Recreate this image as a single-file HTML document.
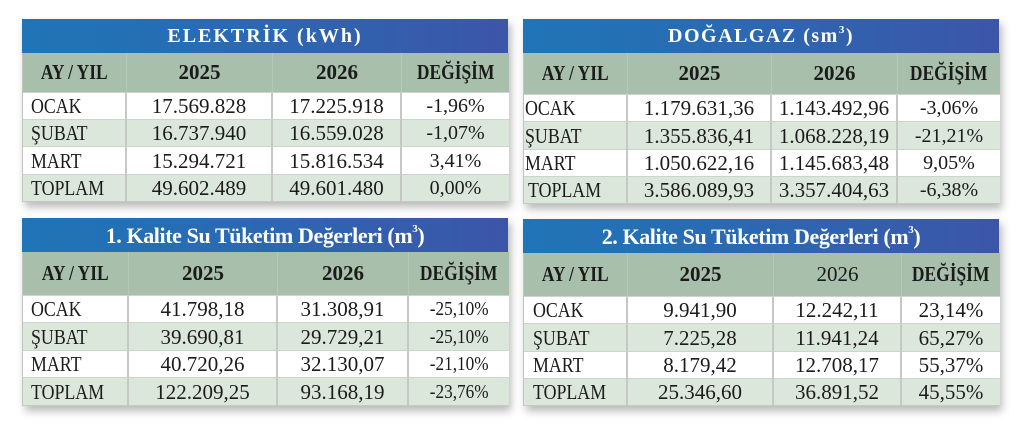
<!DOCTYPE html>
<html><head><meta charset="utf-8">
<style>
html,body{margin:0;padding:0;background:#fff;}
body{width:1031px;height:438px;position:relative;overflow:hidden;font-family:"Liberation Serif","DejaVu Serif",serif;color:#1b1b1b;}
.t{position:absolute;box-shadow:3px 5px 8px rgba(0,0,0,0.28);background:#fff;}
.title{height:34px;line-height:35px;text-align:center;color:#fff;font-weight:bold;background:linear-gradient(90deg,#1f75b7 0%,#2c68b2 50%,#3c55a7 100%);white-space:nowrap;}
.title.a{font-size:20px;letter-spacing:2px;}
.title.b{font-size:22px;letter-spacing:-0.4px;}
.title sup{font-size:11px;vertical-align:top;position:relative;top:-6px;}
.g{display:grid;box-sizing:border-box;border-left:1px solid #bfc6bf;border-right:1px solid #bfc6bf;border-bottom:1px solid #c3c9c3;}
.g div{box-sizing:border-box;text-align:center;white-space:nowrap;overflow:visible;}
.h{background:#a8c0ab;font-weight:bold;font-size:21px;border-right:1px solid #b5c9b7;}
.h span{display:inline-block;transform:scaleX(0.83);}
.h.nb{font-weight:normal;}
.c{font-size:21px;border-right:2px solid #c4c9c4;border-top:1px solid #cdd3cd;}
.c.p{font-size:20px;}
.c.p2{font-size:20px;}
.c.p2 span{display:inline-block;transform:scaleX(0.86);}
.c.p3{font-size:21px;}
.c.e{border-right:none;}
.h.e{border-right:none;}
.w{background:#fff;}
.z{background:#dce7db;}
.c.lab{text-align:left;}
.c.lab span{display:inline-block;transform:scaleX(0.85);transform-origin:left center;}
</style></head><body>

<!-- TABLE 1 -->
<div class="t" style="left:22px;top:19px;width:486px;">
  <div class="title a">ELEKTRİK (kWh)</div>
  <div class="g" style="grid-template-columns:104px 146px 129px 107px;grid-template-rows:39px 27px 27px 28px 27px;line-height:27px;">
    <div class="h" style="line-height:39px"><span>AY / YIL</span></div>
    <div class="h" style="line-height:39px">2025</div>
    <div class="h" style="line-height:39px">2026</div>
    <div class="h e" style="line-height:39px"><span>DEĞİŞİM</span></div>

    <div class="c lab w" style="padding-left:8px"><span>OCAK</span></div>
    <div class="c w">17.569.828</div>
    <div class="c w">17.225.918</div>
    <div class="c p e w">-1,96%</div>

    <div class="c lab z" style="padding-left:8px"><span>ŞUBAT</span></div>
    <div class="c z">16.737.940</div>
    <div class="c z">16.559.028</div>
    <div class="c p e z">-1,07%</div>

    <div class="c lab w" style="padding-left:8px;line-height:28px"><span>MART</span></div>
    <div class="c w" style="line-height:28px">15.294.721</div>
    <div class="c w" style="line-height:28px">15.816.534</div>
    <div class="c p e w" style="line-height:28px">3,41%</div>

    <div class="c lab z" style="padding-left:8px"><span>TOPLAM</span></div>
    <div class="c z">49.602.489</div>
    <div class="c z">49.601.480</div>
    <div class="c p e z">0,00%</div>
  </div>
</div>

<!-- TABLE 2 -->
<div class="t" style="left:523px;top:19px;width:476px;">
  <div class="title a" style="letter-spacing:1.5px">DOĞALGAZ (sm<sup>3</sup>)</div>
  <div class="g" style="grid-template-columns:104px 144px 126px 102px;grid-template-rows:41px 27px 28px 27px 27px;line-height:27px;">
    <div class="h" style="line-height:41px"><span>AY / YIL</span></div>
    <div class="h" style="line-height:41px">2025</div>
    <div class="h" style="line-height:41px">2026</div>
    <div class="h e" style="line-height:41px"><span>DEĞİŞİM</span></div>

    <div class="c lab w" style="padding-left:1px"><span>OCAK</span></div>
    <div class="c w">1.179.631,36</div>
    <div class="c w">1.143.492,96</div>
    <div class="c p e w">-3,06%</div>

    <div class="c lab z" style="padding-left:1px;line-height:28px"><span>ŞUBAT</span></div>
    <div class="c z" style="line-height:28px">1.355.836,41</div>
    <div class="c z" style="line-height:28px">1.068.228,19</div>
    <div class="c p e z" style="line-height:28px">-21,21%</div>

    <div class="c lab w" style="padding-left:1px"><span>MART</span></div>
    <div class="c w">1.050.622,16</div>
    <div class="c w">1.145.683,48</div>
    <div class="c p e w">9,05%</div>

    <div class="c lab z" style="padding-left:4px"><span>TOPLAM</span></div>
    <div class="c z">3.586.089,93</div>
    <div class="c z">3.357.404,63</div>
    <div class="c p e z">-6,38%</div>
  </div>
</div>

<!-- TABLE 3 -->
<div class="t" style="left:22px;top:218px;width:486px;">
  <div class="title b">1. Kalite Su Tüketim Değerleri (m<sup>3</sup>)</div>
  <div class="g" style="grid-template-columns:106px 149px 131px 100px;grid-template-rows:43px 27px 28px 27px 28px;line-height:27px;">
    <div class="h" style="line-height:43px"><span>AY / YIL</span></div>
    <div class="h" style="line-height:43px">2025</div>
    <div class="h" style="line-height:43px">2026</div>
    <div class="h e" style="line-height:43px"><span>DEĞİŞİM</span></div>

    <div class="c lab w" style="padding-left:8px"><span>OCAK</span></div>
    <div class="c w">41.798,18</div>
    <div class="c w">31.308,91</div>
    <div class="c p2 e w"><span>-25,10%</span></div>

    <div class="c lab z" style="padding-left:8px;line-height:28px"><span>ŞUBAT</span></div>
    <div class="c z" style="line-height:28px">39.690,81</div>
    <div class="c z" style="line-height:28px">29.729,21</div>
    <div class="c p2 e z" style="line-height:28px"><span>-25,10%</span></div>

    <div class="c lab w" style="padding-left:8px"><span>MART</span></div>
    <div class="c w">40.720,26</div>
    <div class="c w">32.130,07</div>
    <div class="c p2 e w"><span>-21,10%</span></div>

    <div class="c lab z" style="padding-left:8px;line-height:28px"><span>TOPLAM</span></div>
    <div class="c z" style="line-height:28px">122.209,25</div>
    <div class="c z" style="line-height:28px">93.168,19</div>
    <div class="c p2 e z" style="line-height:28px"><span>-23,76%</span></div>
  </div>
</div>

<!-- TABLE 4 -->
<div class="t" style="left:523px;top:219px;width:476px;">
  <div class="title b">2. Kalite Su Tüketim Değerleri (m<sup>3</sup>)</div>
  <div class="g" style="grid-template-columns:104px 146px 128px 98px;grid-template-rows:43px 27px 28px 27px 27px;line-height:27px;">
    <div class="h" style="line-height:43px"><span>AY / YIL</span></div>
    <div class="h" style="line-height:43px">2025</div>
    <div class="h nb" style="line-height:43px">2026</div>
    <div class="h e" style="line-height:43px"><span>DEĞİŞİM</span></div>

    <div class="c lab w" style="padding-left:9px"><span>OCAK</span></div>
    <div class="c w">9.941,90</div>
    <div class="c w">12.242,11</div>
    <div class="c p3 e w">23,14%</div>

    <div class="c lab z" style="padding-left:9px;line-height:28px"><span>ŞUBAT</span></div>
    <div class="c z" style="line-height:28px">7.225,28</div>
    <div class="c z" style="line-height:28px">11.941,24</div>
    <div class="c p3 e z" style="line-height:28px">65,27%</div>

    <div class="c lab w" style="padding-left:9px"><span>MART</span></div>
    <div class="c w">8.179,42</div>
    <div class="c w">12.708,17</div>
    <div class="c p3 e w">55,37%</div>

    <div class="c lab z" style="padding-left:9px"><span>TOPLAM</span></div>
    <div class="c z">25.346,60</div>
    <div class="c z">36.891,52</div>
    <div class="c p3 e z">45,55%</div>
  </div>
</div>

</body></html>
